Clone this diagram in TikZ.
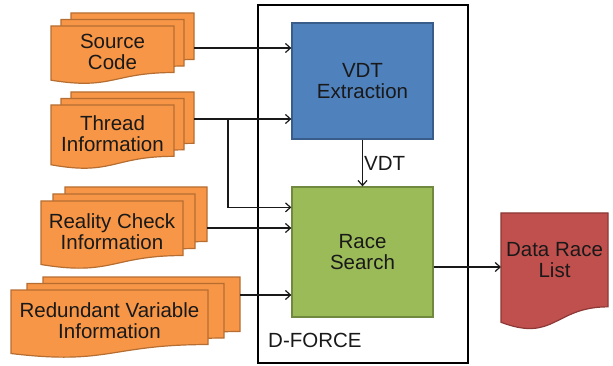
\documentclass[tikz,border=0pt]{standalone}
\usepackage{fontspec}
\setmainfont{Liberation Sans}
\usepackage{xcolor}
\usetikzlibrary{positioning, calc, arrows.meta}
\definecolor{docorange}{HTML}{F79646}
\definecolor{docorangeline}{HTML}{B66D31}
\definecolor{vdtblue}{HTML}{4F81BD}
\definecolor{vdtblueline}{HTML}{385D8A}
\definecolor{racegreen}{HTML}{9BBB59}
\definecolor{racegreenline}{HTML}{71893F}
\definecolor{listred}{HTML}{C0504D}
\definecolor{listredline}{HTML}{8C3836}
\tikzset{
  txt/.style={font=\fontsize{20.5}{21.5}\selectfont,text=black!90,align=center,inner sep=1pt},
  docbox/.style={fill=docorange,draw=docorangeline,line width=1.2pt},
  box/.style={txt,line width=1.3pt,minimum width=141pt,minimum height=116pt},
  frame/.style={draw=black,line width=2pt,minimum width=210pt,minimum height=358pt},
  conn/.style={line width=1.2pt,black!90}
}
% document shape: x, y (top left), width, height, style
\newcommand{\docshape}[5]{%
  \draw[#5] (#1,#2) -- (#1+#3,#2) -- (#1+#3,#2+0.802*#4)
    .. controls (#1+0.5*#3,#2+0.802*#4) and (#1+0.5*#3,#2+1.108*#4) .. (#1,#2+0.934*#4) -- cycle;}
% stack of three documents: name, x, y, width, height, dx, dy, text
\newcommand{\docstack}[8]{%
  \docshape{#2+2*#6}{#3-2*#7}{#4}{#5}{docbox}
  \docshape{#2+#6}{#3-#7}{#4}{#5}{docbox}
  \docshape{#2}{#3}{#4}{#5}{docbox}
  \node[txt] (#1) at (#2+0.5*#4,#3+0.45*#5) {#8};}

\begin{document}
\begin{tikzpicture}[x=1pt,y=-1pt,>={Straight Barb[length=5pt,width=9pt]}]
  \useasboundingbox (0,0) rectangle (613,366);
  % D-FORCE frame
  \node[frame] (dforce) at (363,184) {};
  \node[txt,anchor=west] (dforcelbl) at (267,340) {D-FORCE};
  % process boxes
  \node[box,fill=vdtblue,draw=vdtblueline] (vdt) at (362.5,81) {VDT\\Extraction};
  \node[box,fill=racegreen,draw=racegreenline,minimum height=130pt] (race) at (362.5,252) {Race\\Search};
  % inputs
  \docstack{src}{51}{26}{123}{58}{10}{6.5}{Source\\Code}
  \docstack{thr}{51}{105}{123}{64}{10}{6.5}{Thread\\Information}
  \docstack{rc}{41}{201}{142}{68}{12}{7}{Reality Check\\Information}
  \docstack{rv}{11}{290}{197}{68}{16}{6.5}{Redundant Variable\\Information}
  % output
  \docshape{501}{213}{107}{117}{fill=listred,draw=listredline,line width=1.2pt}
  \node[txt] (drl) at (554.5,260) {Data Race\\List};
  % connector ends
  \coordinate (src-out) at (194,48);
  \coordinate (thr-out) at (194,119);
  \coordinate (thr-split) at (228,119);
  \coordinate (rc-out) at (207,228);
  \coordinate (rv-out) at (240,295);
  \coordinate (race-in) at ($(race.north west)!0.16!(race.south west)$);
  \coordinate (race-out) at ($(race.east)+(0,15)$);
  \coordinate (drl-in) at (501,267);
  % connectors
  \draw[->,conn] (src-out) -- (src-out -| vdt.west);
  \draw[->,conn] (thr-out) -- (thr-out -| vdt.west);
  \draw[->,conn] (thr-split) |- (race-in);
  \draw[->,conn] (rc-out) -- (rc-out -| race.west);
  \draw[->,conn] (rv-out) -- (rv-out -| race.west);
  \draw[->,conn] (vdt) -- (race) node[txt,midway,right] (vdtlbl) {VDT};
  \draw[->,conn] (race-out) -- (drl-in);
\end{tikzpicture}
\end{document}
